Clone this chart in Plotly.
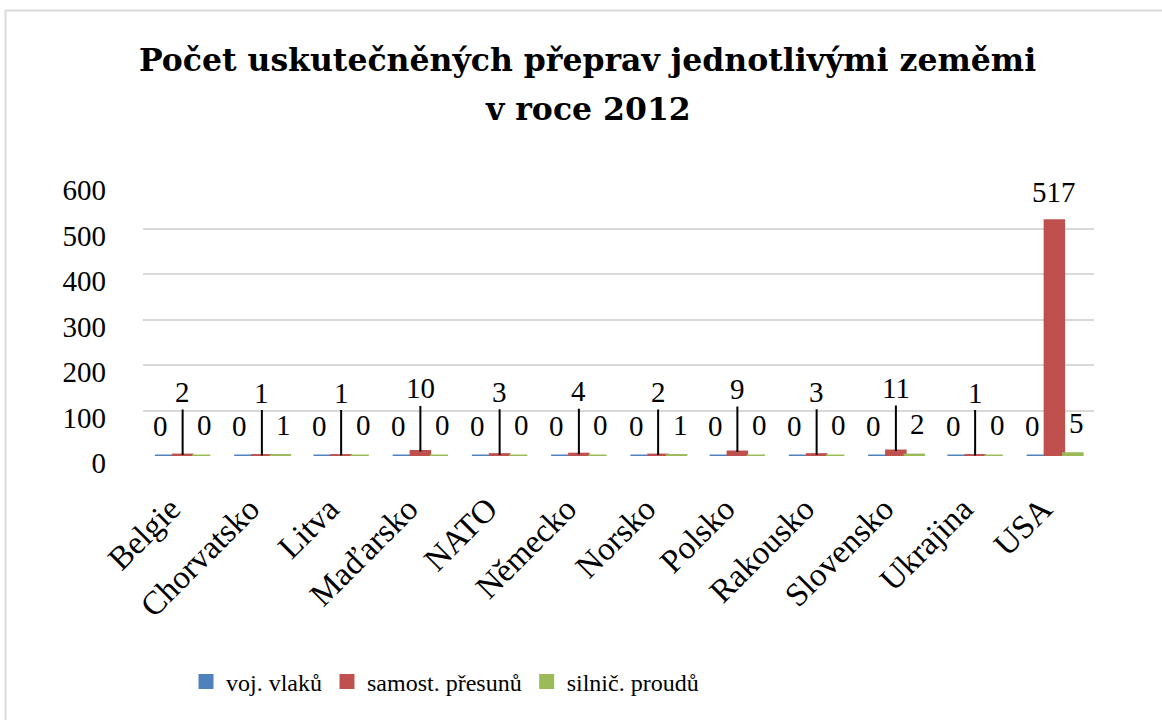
import plotly.graph_objects as go

countries = ["Belgie", "Chorvatsko", "Litva", "Maďarsko", "NATO", "Německo",
             "Norsko", "Polsko", "Rakousko", "Slovensko", "Ukrajina", "USA"]
voj_vlaku = [0, 0, 0, 0, 0, 0, 0, 0, 0, 0, 0, 0]
samost_presunu = [2, 1, 1, 10, 3, 4, 2, 9, 3, 11, 1, 517]
silnic_proudu = [0, 1, 0, 0, 0, 0, 1, 0, 0, 2, 0, 5]
series_names = ["voj. vlaků", "samost. přesunů", "silnič. proudů"]
y_ticks = [0, 100, 200, 300, 400, 500, 600]

title_line1 = "Počet uskutečněných přeprav jednotlivými zeměmi"
title_line2 = "v roce 2012"

colors = ["#4F81BD", "#C0504D", "#9BBB59"]
FONT = "Liberation Serif"
TFONT = "DejaVu Serif"

# plot-area placement in container pixels
L, R, T, B = 143, 1094, 183, 456
W, H = 1162, 720


def px_x(p):
    return (p - L) / (R - L)


def px_y(p):
    return (B - p) / (B - T)


fig = go.Figure()
for name, vals, col in zip(series_names, [voj_vlaku, samost_presunu, silnic_proudu], colors):
    fig.add_trace(go.Bar(
        x=countries, y=vals, name=name,
        marker=dict(color=col, line=dict(color=col, width=3)),
    ))

annotations = []
# red (middle) series labels with leader lines
for c, v in zip(countries, samost_presunu):
    if c == "USA":
        annotations.append(dict(x=c, y=v, xref="x", yref="y", text=str(v),
                                showarrow=False, yshift=29, yanchor="middle",
                                font=dict(family=FONT, size=29, color="black")))
    else:
        annotations.append(dict(x=c, y=v, xref="x", yref="y", text=str(v),
                                showarrow=True, arrowhead=0, arrowwidth=2,
                                arrowcolor="black", ax=0, ay=-63, standoff=0,
                                font=dict(family=FONT, size=29, color="black")))
# blue (left) and green (right) labels
for c, v in zip(countries, voj_vlaku):
    annotations.append(dict(x=c, y=v, xref="x", yref="y", text=str(v),
                            showarrow=False, xshift=-22, yshift=30, yanchor="middle",
                            font=dict(family=FONT, size=29, color="black")))
for c, v in zip(countries, silnic_proudu):
    annotations.append(dict(x=c, y=v, xref="x", yref="y", text=str(v),
                            showarrow=False, xshift=22, yshift=31, yanchor="middle",
                            font=dict(family=FONT, size=29, color="black")))
# second title line
annotations.append(dict(x=px_x(587.5), y=px_y(108), xref="paper", yref="paper",
                        text="<b>" + title_line2 + "</b>", showarrow=False,
                        xanchor="center", yanchor="middle",
                        font=dict(family=TFONT, size=31.5, color="black")))

fig.update_layout(
    width=W, height=H,
    font=dict(family=FONT, color="black"),
    margin=dict(l=L, r=W - R, t=T, b=H - B, autoexpand=False),
    paper_bgcolor="white", plot_bgcolor="white",
    barmode="group", bargap=0.3, bargroupgap=0,
    title=dict(text="<b>" + title_line1 + "</b>", x=587.5 / W, xanchor="center",
               xref="container", y=1 - 60 / H, yanchor="middle", yref="container",
               font=dict(family=TFONT, size=31.5, color="black")),
    xaxis=dict(tickangle=-45, showgrid=False, showline=False, zeroline=False,
               ticks="", ticklabelstandoff=26, ticklabelshift=-12,
               tickfont=dict(family=FONT, size=33, color="black")),
    yaxis=dict(range=[0, 600], tickvals=y_ticks, showgrid=True,
               gridcolor="#D9D9D9", gridwidth=2, zeroline=False, showline=False,
               ticklabelstandoff=36, ticklabelshift=7,
               tickfont=dict(family=FONT, size=29, color="black")),
    legend=dict(orientation="h", x=px_x(186), xanchor="left", y=px_y(682),
                yanchor="middle",
                font=dict(family="Liberation Serif", size=24, color="black"),
                bgcolor="rgba(0,0,0,0)"),
    annotations=annotations,
    shapes=[dict(type="rect", xref="paper", yref="paper",
                 x0=px_x(5.5), x1=px_x(1172), y0=px_y(730), y1=px_y(10.5),
                 line=dict(color="#D9D9D9", width=2), fillcolor="rgba(0,0,0,0)",
                 layer="below")],
)

fig.write_html("out.html", config={"displayModeBar": False},
               post_script="document.body.style.margin='0';")
